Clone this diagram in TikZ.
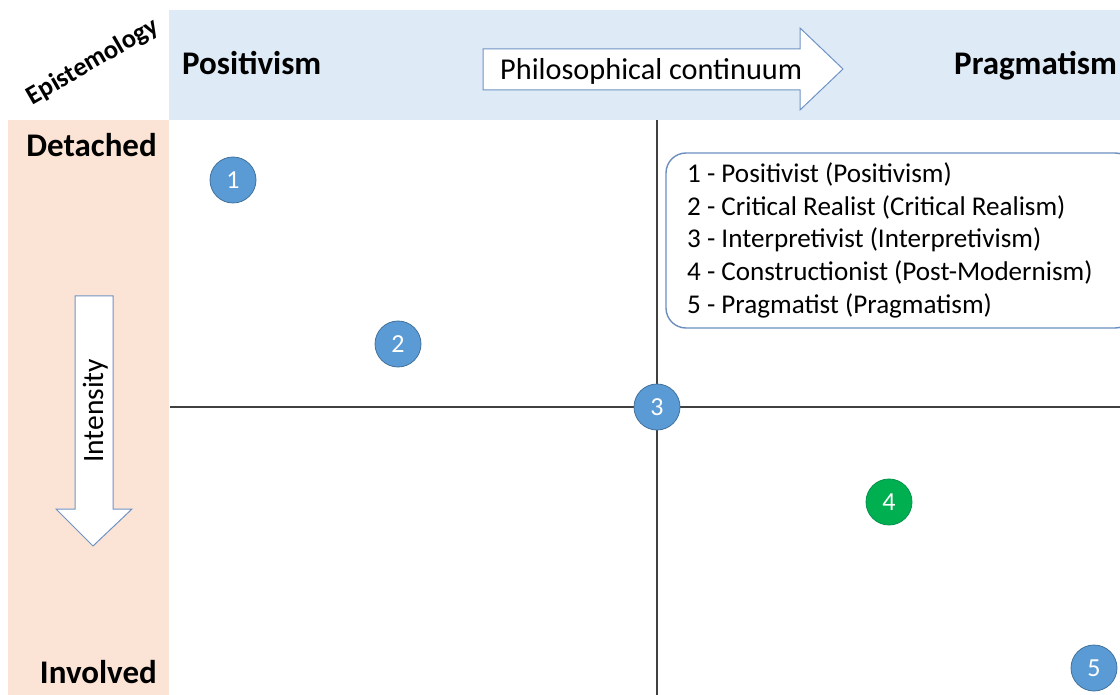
\documentclass[tikz,border=0pt]{standalone}
\usepackage{fontspec}
\setmainfont{Carlito}
\definecolor{bandblue}{HTML}{DEEAF6}
\definecolor{bandpeach}{HTML}{FBE4D5}
\definecolor{dotblue}{HTML}{5B9BD5}
\definecolor{dotedge}{HTML}{41719C}
\definecolor{dotgreen}{HTML}{00B050}
\definecolor{greenedge}{HTML}{00934A}
\definecolor{axisgray}{HTML}{404040}
\definecolor{arrowedge}{HTML}{6F93C4}
\definecolor{legendedge}{HTML}{6C8EBF}
\tikzset{
  heading/.style={font=\fontsize{33}{36}\selectfont\bfseries, inner sep=0pt, text=black},
  body/.style={font=\fontsize{30.3}{34}\selectfont, inner sep=0pt},
  legendline/.style={font=\fontsize{27.1}{30}\selectfont, inner sep=0pt, anchor=base west},
  dot/.style={circle, fill=dotblue, draw=dotedge, line width=0.8pt, minimum size=46pt,
              inner sep=0pt, text=white, font=\fontsize{26}{26}\selectfont},
  greendot/.style={dot, fill=dotgreen, draw=greenedge},
  axis/.style={draw=axisgray, line width=1.8pt},
  bigarrow/.style={draw=arrowedge, fill=white, line width=1pt, line join=miter},
}
\begin{document}
\begin{tikzpicture}[x=1pt, y=-1pt]
\useasboundingbox (0,0) rectangle (1120,695);
\begin{scope}
\clip (0,0) rectangle (1120,695);

% coloured bands
\fill[bandblue] (169,10) rectangle (1120,120);
\fill[bandpeach] (8,120) rectangle (169,695);

% quadrant axes
\coordinate (vtop) at (657,120);
\coordinate (vbot) at (657,695);
\coordinate (hleft) at (170,407);
\coordinate (hright) at (1120,407);
\draw[axis] (vtop) -- (vbot);
\draw[axis] (hleft) -- (hright);

% horizontal block arrow
\draw[bigarrow] (483,49) -- (800,49) -- (800,28) -- (843,69) -- (800,110) -- (800,90) -- (483,90) -- cycle;
\node[body, anchor=base west] (cont) at (500,80) {Philosophical continuum};

% vertical block arrow
\draw[bigarrow] (75,296) -- (113,296) -- (113,509) -- (132,509) -- (93,546) -- (56,509) -- (75,509) -- cycle;
\node[body, font=\fontsize{29.5}{32}\selectfont, rotate=90, anchor=base west] (intensity) at (103,463) {Intensity};

% headings
\node[heading, anchor=base west] (pos) at (182,75) {Positivism};
\node[heading, anchor=base west] (prag) at (954,75) {Pragmatism};
\node[heading, anchor=base east] (det) at (157,157) {Detached};
\node[heading, anchor=base east] (inv) at (157,683) {Involved};
\node[heading, font=\fontsize{26.5}{28}\selectfont\bfseries, rotate=30] (epi) at (93,62) {Epistemology};

% legend
\draw[legendedge, line width=1.4pt, rounded corners=20pt] (666,153) rectangle (1135,328);
\node[legendline] (l1) at (687,183) {1 - Positivist (Positivism)};
\node[legendline] (l2) at (687,216) {2 - Critical Realist (Critical Realism)};
\node[legendline] (l3) at (687,248) {3 - Interpretivist (Interpretivism)};
\node[legendline] (l4) at (687,280.5) {4 - Constructionist (Post-Modernism)};
\node[legendline] (l5) at (687,313) {5 - Pragmatist (Pragmatism)};

% positions
\node[dot] (p1) at (233,180) {1};
\node[dot] (p2) at (398,344) {2};
\node[dot] (p3) at (657,407) {3};
\node[greendot] (p4) at (889,502) {4};
\node[dot] (p5) at (1094,668) {5};
\end{scope}
\end{tikzpicture}
\end{document}
